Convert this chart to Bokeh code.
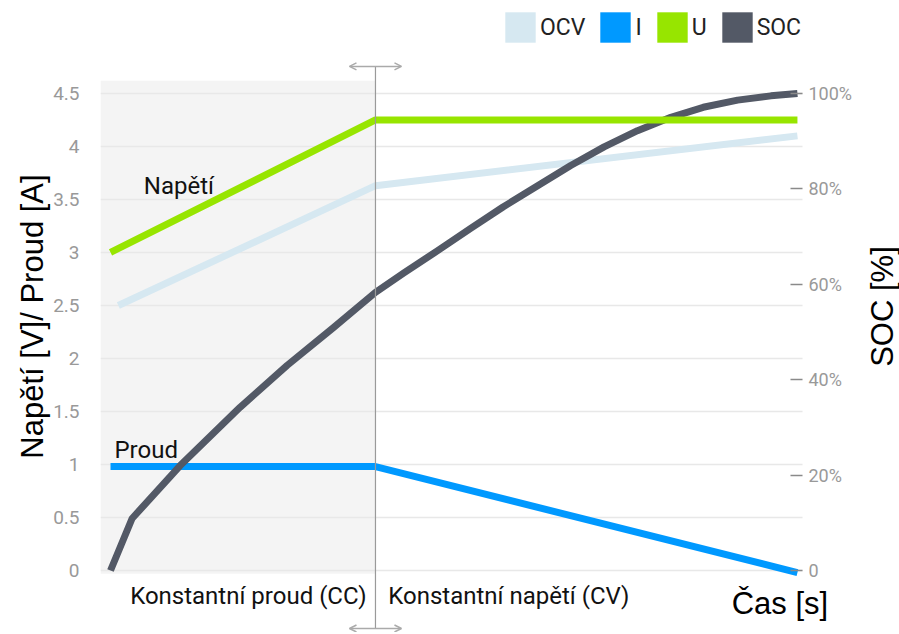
import math
from bokeh.plotting import figure
from bokeh.models import (Range1d, LinearAxis, FixedTicker, PrintfTickFormatter,
                          CustomJSTickFormatter, Legend, LegendItem, Arrow, OpenHead)
from bokeh.core.properties import value
from bokeh.embed import file_html
from bokeh.resources import INLINE

# ---------------- data ----------------
series_names = ["OCV", "I", "U", "SOC"]
series_colors = ["#d6e8f1", "#0099ff", "#97e500", "#535966"]

t_ocv = [0.8, 27, 70]
ocv = [2.5, 3.63, 4.10]

t_i = [0, 27, 70]
current = [0.98, 0.98, -0.02]

t_u = [0, 27, 70]
voltage = [3.0, 4.25, 4.25]

t_soc = [0, 2.2, 7.1, 13.2, 18.0, 22.7, 27, 29.9, 33.3, 36.7, 40.0, 46.9,
         50.3, 53.7, 57.1, 60.4, 63.9, 67.3, 70]
soc = [0, 10.9, 22.0, 34.2, 43.0, 50.9, 58.3, 62.4, 67.0, 71.7, 76.2, 84.9,
       88.8, 92.2, 95.0, 97.1, 98.6, 99.5, 100]

v_ticks = [0, 0.5, 1, 1.5, 2, 2.5, 3, 3.5, 4, 4.5]
soc_ticks = [0, 20, 40, 60, 80, 100]

boundary_t = 27          # switch from CC to CV phase
phase_labels = ["Konstantní proud (CC)", "Konstantní napětí (CV)"]
y_title = "Napětí [V]/ Proud [A]"
y2_title = "SOC [%]"
x_title = "Čas [s]"

# ---------------- figure ----------------
V_MAX, SOC_MAX = 4.5, 100.0
y0, y1 = -0.585, 5.377
x0, x1 = -1.02, 80.4
x_axis_pos = 70.51       # where the SOC axis sits

p = figure(width=899, height=632, output_backend="svg", toolbar_location=None,
           x_range=Range1d(x0, x1), y_range=Range1d(y0, y1),
           x_axis_location=None, y_axis_location="left",
           min_border_left=100, min_border_right=0, min_border_top=0,
           min_border_bottom=0, outline_line_color=None,
           background_fill_color="white", border_fill_color="white")

p.xgrid.visible = False

# left axis
yax = p.yaxis[0]
yax.ticker = FixedTicker(ticks=v_ticks)
yax.formatter = PrintfTickFormatter(format="%g")
yax.axis_line_color = None
yax.major_tick_line_color = None
yax.minor_tick_line_color = None
yax.major_label_text_color = "#999999"
yax.major_label_text_font = "Roboto"
yax.major_label_text_font_size = "19px"
yax.major_label_standoff = 15
yax.axis_label = y_title
yax.axis_label_text_font = "Liberation Sans"
yax.axis_label_text_font_style = "normal"
yax.axis_label_text_font_size = "31px"
yax.axis_label_text_color = "#000000"
yax.axis_label_standoff = 0

p.ygrid.ticker = yax.ticker
p.ygrid.grid_line_color = "#e8e8e8"
p.ygrid.grid_line_width = 1.5
p.ygrid.cross_bounds = (x0, x_axis_pos)

# right axis (SOC)
p.extra_y_ranges = {"soc": Range1d(y0 / V_MAX * SOC_MAX, y1 / V_MAX * SOC_MAX)}
rax = LinearAxis(y_range_name="soc", ticker=FixedTicker(ticks=soc_ticks),
                 formatter=CustomJSTickFormatter(code="return tick == 0 ? '0' : tick + '%'"),
                 fixed_location=x_axis_pos)
rax.axis_line_color = None
rax.minor_tick_line_color = None
rax.major_tick_in = 12
rax.major_tick_out = 0
rax.major_tick_line_color = "#8a8a8a"
rax.major_tick_line_width = 1.5
rax.major_label_text_color = "#999999"
rax.major_label_text_font = "Roboto"
rax.major_label_text_font_size = "18px"
rax.major_label_standoff = 6
p.add_layout(rax, "right")

# SOC axis title, rotated to read bottom-to-top
p.text(x=[78.66], y=[2.49], text=[y2_title], angle=math.pi / 2,
       text_font=value("Liberation Sans"), text_font_size="31px",
       text_align="center", text_baseline="middle", text_color="#000000")

# CC phase shading
p.quad(left=[x0], right=[boundary_t], bottom=[-0.03], top=[4.62],
       fill_color="#f4f4f4", line_color=None, level="image")

# series lines
p.line(t_ocv, ocv, line_color=series_colors[0], line_width=7)
p.line(t_i, current, line_color=series_colors[1], line_width=7)
p.line(t_soc, soc, y_range_name="soc", line_color=series_colors[3], line_width=7,
       line_join="round")
p.line(t_u, voltage, line_color=series_colors[2], line_width=7)

# inline series labels
p.text(x=[3.4], y=[3.63], text=["Napětí"], text_font=value("Roboto"),
       text_font_size="24px", text_baseline="middle", text_align="left",
       text_color="#111111")
p.text(x=[0.4], y=[1.14], text=["Proud"], text_font=value("Roboto"),
       text_font_size="24px", text_baseline="middle", text_align="left",
       text_color="#111111")

# phase labels and x title
p.text(x=[2.0, 28.3], y=[-0.245, -0.245], text=phase_labels,
       text_font=value("Roboto"), text_font_size="24px", text_baseline="middle",
       text_align="left", text_color="#111111")
p.text(x=[63.3], y=[-0.311], text=[x_title], text_font=value("Liberation Sans"),
       text_font_size="31px", text_baseline="middle", text_align="left",
       text_color="#000000")

# phase boundary line with arrows
arrow_half = 2.65
y_arrow_top, y_arrow_bot = 4.755, -0.547
p.add_layout(Arrow(x_start=boundary_t, y_start=y_arrow_top, x_end=boundary_t,
                   y_end=y_arrow_bot, end=None, line_color="#9a9a9a", line_width=1.2))
for ya in (y_arrow_top, y_arrow_bot):
    p.add_layout(Arrow(x_start=boundary_t - arrow_half, y_start=ya,
                       x_end=boundary_t + arrow_half, y_end=ya,
                       start=OpenHead(size=7, line_color="#aaaaaa", line_width=1.5),
                       end=OpenHead(size=7, line_color="#aaaaaa", line_width=1.5),
                       line_color="#aaaaaa", line_width=1.5))

# legend with square swatches (zero-size quads carry the colours)
items = []
for name, col in zip(series_names, series_colors):
    r = p.quad(left=[x0], right=[x0], top=[y0], bottom=[y0], fill_color=col,
               line_color=None)
    items.append(LegendItem(label=name, renderers=[r]))
legend = Legend(items=items, orientation="horizontal", location=(401, 586),
                glyph_width=38, glyph_height=38, label_standoff=1, spacing=11,
                label_width=0, padding=0, margin=0, border_line_color=None,
                background_fill_alpha=0, label_text_font="Roboto",
                label_text_font_size="23px", label_text_color="#222222")
p.add_layout(legend)

open("out.html", "w").write(file_html(p, INLINE))
